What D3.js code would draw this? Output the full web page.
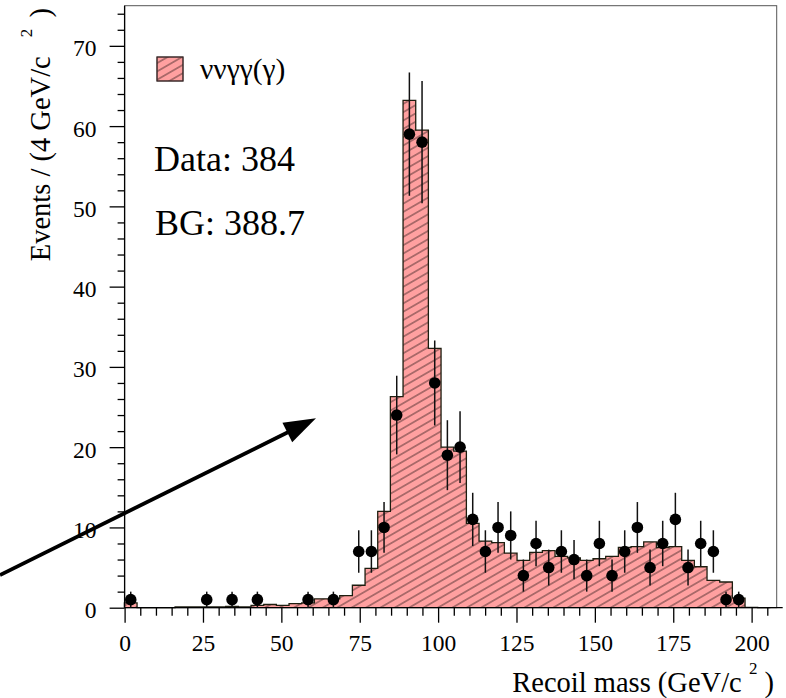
<!DOCTYPE html>
<html><head><meta charset="utf-8">
<script src="https://cdn.jsdelivr.net/npm/d3@7"></script>
<style>body{margin:0;background:#fff} svg{display:block}</style>
</head><body><svg id="c" width="786" height="698"></svg>
<script>
// ---------- data ----------
const binStart = 0, binWidth = 4;
// expected background (stacked MC), one value per 4 GeV bin starting at 0
const bgCounts = [0.6,0,0,0,0.1,0.1,0.1,0.1,0.15,0.1,0.3,0.4,0.3,0.5,0.6,1.1,1.1,1.5,
  2.8,4.9,12.0,26.3,63.2,59.5,32.3,20.0,19.5,10.5,8.3,8.1,6.8,
  5.9,6.9,7.1,6.4,6.2,5.9,6.1,6.4,7.5,7.6,8.2,7.5,7.6,5.9,5.1,3.4,3.2,1.2,0.05,0];
// observed data (bin centres, counts)
const dataX = [2,26,34,42,58,66,74,78,82,86,90,94,98,102,106,110,114,118,122,
  126,130,134,138,142,146,150,154,158,162,166,170,174,178,182,186,190,194];
const dataN = [1,1,1,1,1,1,7,7,10,24,59,58,28,19,20,11,7,10,9,
  4,8,5,7,6,4,8,4,7,10,5,8,11,5,8,7,1,1];
const xMajorTicks = [0,25,50,75,100,125,150,175,200];
const yMajorTicks = [0,10,20,30,40,50,60,70];
const legendLabel = "ννγγ(γ)";
const dataText = "Data: 384";
const bgText = "BG: 388.7";
const xTitle = ["Recoil mass (GeV/c ", "2", " )"];
const yTitle = ["Events / (4 GeV/c ", "2", " )"];
// arrow annotation in data coordinates [x, y]
const arrowFrom = [-39.3, 4.07], arrowTo = [60.5, 23.6];

// ---------- scales ----------
const svg = d3.select("#c");
const L = 124.6, R = 776.7, T = 5.7, B = 607.7;
const xAxisScale = d3.scaleLinear().domain([0, 208]).range([L, R]);
const xHist = d3.scaleLinear().domain([0, 206]).range([124.4, R]);
const y = d3.scaleLinear().domain([0, 75]).range([B, T]);
const FONT = "'Liberation Serif','Times New Roman',serif";

svg.append("rect").attr("width",786).attr("height",698).attr("fill","#fff");

// hatch pattern
const defs = svg.append("defs");
const pat = defs.append("pattern").attr("id","hatch").attr("patternUnits","userSpaceOnUse")
  .attr("width",12).attr("height",7.2).attr("patternTransform","rotate(-30)");
pat.append("line").attr("x1",0).attr("x2",12).attr("y1",3.6).attr("y2",3.6)
  .attr("stroke","#4a2c2c").attr("stroke-width",0.9);

// frame
svg.append("rect").attr("x",L).attr("y",T).attr("width",R-L).attr("height",B-T)
  .attr("fill","none").attr("stroke","#555").attr("stroke-width",1);

// ---------- histogram ----------
const pts = [[xHist(binStart), y(0)]];
bgCounts.forEach((v,i) => {
  const x0 = binStart + i*binWidth;
  pts.push([xHist(x0), y(v)]);
  pts.push([xHist(x0+binWidth), y(v)]);
});
pts.push([xHist(binStart + bgCounts.length*binWidth), y(0)]);
const histPath = d3.line()(pts);
svg.append("path").attr("d", histPath + "Z").attr("fill","#ffa0a0").attr("stroke","none");
svg.append("path").attr("d", histPath + "Z").attr("fill","url(#hatch)").attr("stroke","none");
svg.append("path").attr("d", histPath).attr("fill","none").attr("stroke","#1e1e10").attr("stroke-width",1.3);

// ---------- axes ----------
function styleAxis(g){
  g.select(".domain").remove();
  g.selectAll("line").attr("stroke","#000").attr("stroke-width",1.3);
  g.selectAll("text").attr("font-family",FONT).attr("font-size",23.5).attr("fill","#000");
}
const xMinor = d3.range(0, 209, 5).filter(v => !xMajorTicks.includes(v));
svg.append("g").attr("transform",`translate(0,${B})`)
  .call(d3.axisBottom(xAxisScale).tickValues(xMinor).tickSize(8).tickFormat(""))
  .call(styleAxis);
svg.append("g").attr("transform",`translate(0,${B})`)
  .call(d3.axisBottom(xAxisScale).tickValues(xMajorTicks).tickSize(15).tickFormat(d3.format("d")))
  .call(styleAxis)
  .call(g => g.selectAll("text").attr("y",43).attr("dy",0));
const yMinor = d3.range(0, 75, 2).filter(v => !yMajorTicks.includes(v));
svg.append("g").attr("transform",`translate(${L},0)`)
  .call(d3.axisLeft(y).tickValues(yMinor).tickSize(7).tickFormat(""))
  .call(styleAxis);
svg.append("g").attr("transform",`translate(${L},0)`)
  .call(d3.axisLeft(y).tickValues(yMajorTicks).tickSize(15).tickFormat(d3.format("d")))
  .call(styleAxis)
  .call(g => g.selectAll("text").attr("x",-28).attr("dy",10));
// axis lines
svg.append("line").attr("x1",L).attr("x2",R+6).attr("y1",B).attr("y2",B).attr("stroke","#000").attr("stroke-width",1.3);
svg.append("line").attr("x1",L).attr("x2",L).attr("y1",T).attr("y2",B).attr("stroke","#000").attr("stroke-width",1.3);

// ---------- data points ----------
const pg = svg.append("g");
dataX.forEach((cx,i) => {
  const n = dataN[i], e = Math.sqrt(n);
  pg.append("line").attr("x1",xHist(cx)).attr("x2",xHist(cx))
    .attr("y1",y(n-e)).attr("y2",y(n+e)).attr("stroke","#111").attr("stroke-width",1.5);
  pg.append("circle").attr("cx",xHist(cx)).attr("cy",y(n)).attr("r",5.8).attr("fill","#000");
});

// ---------- legend & texts ----------
svg.append("rect").attr("x",157).attr("y",57).attr("width",26).attr("height",24)
  .attr("fill","#ffa0a0").attr("stroke","#3a2a2a").attr("stroke-width",1);
svg.append("rect").attr("x",157).attr("y",57).attr("width",26).attr("height",24)
  .attr("fill","url(#hatch)").attr("stroke","#3a2a2a").attr("stroke-width",1);
svg.append("text").attr("x",200).attr("y",79).attr("font-family",FONT).attr("font-size",29.5)
  .text(legendLabel);
svg.append("text").attr("x",154).attr("y",171).attr("font-family",FONT).attr("font-size",36).text(dataText);
svg.append("text").attr("x",155).attr("y",235).attr("font-family",FONT).attr("font-size",36).text(bgText);

// x title
const xt = svg.append("text").attr("x",774).attr("y",692).attr("text-anchor","end")
  .attr("font-family",FONT).attr("font-size",28.5);
xt.append("tspan").text(xTitle[0]);
xt.append("tspan").attr("font-size",17).attr("dy",-18).text(xTitle[1]);
xt.append("tspan").attr("dy",18).text(xTitle[2]);
// y title
const yt = svg.append("text").attr("transform","translate(49.5,8) rotate(-90)").attr("text-anchor","end")
  .attr("font-family",FONT).attr("font-size",28.5);
yt.append("tspan").text(yTitle[0]);
yt.append("tspan").attr("font-size",17).attr("dy",-18).attr("dx",12).text(yTitle[1]);
yt.append("tspan").attr("dy",18).attr("dx",4).text(yTitle[2]);

// ---------- arrow ----------
const ax0 = xHist(arrowFrom[0]), ay0 = y(arrowFrom[1]);
const ax1 = xHist(arrowTo[0]), ay1 = y(arrowTo[1]);
const ang = Math.atan2(ay1-ay0, ax1-ax0);
const hl = 32, hw = 11;
const bx = ax1 - hl*Math.cos(ang), by = ay1 - hl*Math.sin(ang);
svg.append("line").attr("x1",ax0).attr("y1",ay0).attr("x2",bx+4*Math.cos(ang)).attr("y2",by+4*Math.sin(ang))
  .attr("stroke","#000").attr("stroke-width",3.8);
svg.append("path").attr("d",`M${ax1},${ay1}L${bx - hw*Math.sin(ang)},${by + hw*Math.cos(ang)}L${bx + hw*Math.sin(ang)},${by - hw*Math.cos(ang)}Z`)
  .attr("fill","#000");
</script></body></html>
